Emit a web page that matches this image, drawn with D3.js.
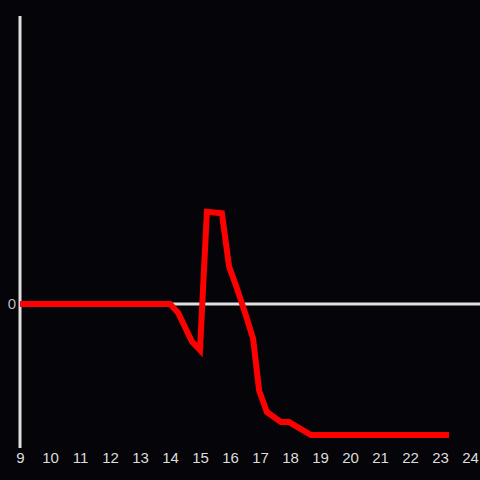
<!DOCTYPE html>
<html>
<head>
<meta charset="utf-8">
<script src="https://cdn.jsdelivr.net/npm/d3@7"></script>
<style>
  html, body { margin: 0; padding: 0; background: #050408; }
  svg { display: block; }
</style>
</head>
<body>
<svg id="chart"></svg>
<script>
// hours of the day and the measured value at each
const hours = [9.0, 14.0, 14.27, 14.73, 15.0, 15.1, 15.23, 15.73, 15.97, 16.23, 16.5, 16.77, 16.97, 17.23, 17.7, 17.97, 18.7, 23.3];
const values = [0, 0, -0.06, -0.26, -0.32, 0.1, 0.64, 0.63, 0.26, 0.11, -0.06, -0.24, -0.6, -0.75, -0.82, -0.82, -0.91, -0.91];
const xTicks = [9, 10, 11, 12, 13, 14, 15, 16, 17, 18, 19, 20, 21, 22, 23, 24];
const yTicks = [0];

let svg = d3.select('#chart')
    .attr('width', 480)
    .attr('height', 480),
  width = +svg.attr('width'),
  height = +svg.attr('height');

svg.append('rect')
  .attr('width', width)
  .attr('height', height)
  .attr('fill', '#050408');

let xScale = d3.scaleLinear().domain([9, 24]).range([20, 470]);
let yScale = d3.scaleLinear().domain([-1, 2]).range([448, 16]);

// vertical axis line
svg.append('line')
  .attr('x1', xScale(9)).attr('x2', xScale(9))
  .attr('y1', yScale(2)).attr('y2', yScale(-1))
  .attr('stroke', '#e0e0e0')
  .attr('stroke-width', 3);

// zero line
svg.append('line')
  .attr('x1', xScale(9)).attr('x2', width)
  .attr('y1', yScale(0)).attr('y2', yScale(0))
  .attr('stroke', '#e0e0e0')
  .attr('stroke-width', 3);

// x tick labels
let xAxis = d3.axisBottom(xScale)
  .tickValues(xTicks)
  .tickSize(0)
  .tickPadding(0)
  .tickFormat(d3.format('d'));

let gx = svg.append('g')
  .attr('transform', 'translate(0,452)')
  .call(xAxis);
gx.select('.domain').remove();
gx.selectAll('text')
  .attr('fill', '#dddddd')
  .attr('dy', '0.71em')
  .style('font-family', 'Liberation Sans, Arial, sans-serif')
  .style('font-size', '15px');

// y tick label
let yAxis = d3.axisLeft(yScale)
  .tickValues(yTicks)
  .tickSize(0)
  .tickPadding(3)
  .tickFormat(d3.format('d'));

let gy = svg.append('g')
  .attr('transform', 'translate(19,0)')
  .call(yAxis);
gy.select('.domain').remove();
gy.selectAll('text')
  .attr('fill', '#bbbbbb')
  .style('font-family', 'Liberation Sans, Arial, sans-serif')
  .style('font-size', '15px');

let line = d3.line()
  .x((d, i) => xScale(hours[i]))
  .y((d, i) => yScale(values[i]));

svg.append('path')
  .datum(values)
  .attr('d', line)
  .attr('fill', 'none')
  .attr('stroke', '#ff0000')
  .attr('stroke-width', 6)
  .attr('stroke-linejoin', 'miter');
</script>
</body>
</html>
